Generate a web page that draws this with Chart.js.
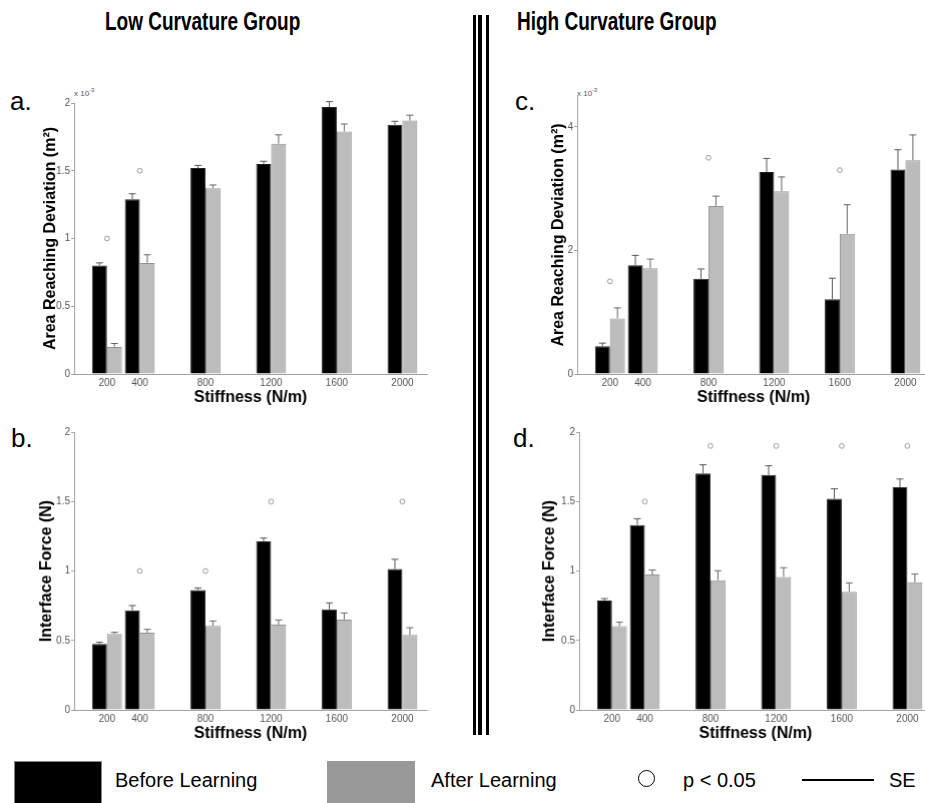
<!DOCTYPE html>
<html>
<head>
<meta charset="utf-8">
<script src="https://cdn.jsdelivr.net/npm/chart.js@4.4.1/dist/chart.umd.min.js"></script>
<style>
  html, body { margin: 0; padding: 0; background: #fff; }
  body { width: 925px; height: 803px; position: relative; overflow: hidden;
         font-family: "Liberation Sans", Arial, sans-serif; color: #000; }
  canvas { position: absolute; }
  .txt { position: absolute; white-space: nowrap; }
  .group { font-weight: bold; font-size: 19px; line-height: 19px; transform: scaleY(1.35); transform-origin: left top; }
  .letter { font-size: 26px; line-height: 26px; }
  .exp { font-size: 8px; line-height: 8px; color: #555; }
  .exp sup { font-size: 6px; vertical-align: 4px; }
  .sep { position: absolute; background: #000; top: 15px; height: 720px; }
  .leg { font-size: 20px; line-height: 20px; }
  .swatch { position: absolute; top: 761px; height: 50px; width: 88px; box-sizing: border-box; }
</style>
</head>
<body>

<div class="txt group" style="left:105px; top:8px;">Low Curvature Group</div>
<div class="txt group" style="left:517px; top:8px;">High Curvature Group</div>

<div class="sep" style="left:473px; width:3px;"></div>
<div class="sep" style="left:478px; width:4px;"></div>
<div class="sep" style="left:486px; width:3px;"></div>

<div class="txt letter" style="left:10px; top:88px;">a.</div>
<div class="txt letter" style="left:11px; top:425px;">b.</div>
<div class="txt letter" style="left:515px; top:88px;">c.</div>
<div class="txt letter" style="left:513px; top:425px;">d.</div>

<div class="txt exp" style="left:74px; top:86px;">x 10<sup>-3</sup></div>
<div class="txt exp" style="left:577px; top:86px;">x 10<sup>-3</sup></div>

<canvas id="chartA"></canvas>
<canvas id="chartB"></canvas>
<canvas id="chartC"></canvas>
<canvas id="chartD"></canvas>

<div class="swatch" style="left:14px; background:#000; border:1px solid #888;"></div>
<div class="txt leg" style="left:115px; top:770px;">Before Learning</div>
<div class="swatch" style="left:327px; background:#999;"></div>
<div class="txt leg" style="left:431px; top:770px;">After Learning</div>
<div style="position:absolute; left:638px; top:770px; width:15px; height:15px; border:1.5px solid #000; border-radius:50%;"></div>
<div class="txt leg" style="left:683px; top:770px;">p &lt; 0.05</div>
<div style="position:absolute; left:802px; top:779px; width:72px; height:1.5px; background:#000;"></div>
<div class="txt leg" style="left:889px; top:770px;">SE</div>

<script>
// stiffness levels (N/m)
const stiffness = [200, 400, 800, 1200, 1600, 2000];

// a. low curvature, area reaching deviation (x 10^-3 m^2)
const lowAreaBefore = [0.80, 1.29, 1.52, 1.55, 1.97, 1.84];
const lowAreaBeforeSE = [0.02, 0.04, 0.02, 0.02, 0.04, 0.025];
const lowAreaAfter = [0.20, 0.82, 1.37, 1.70, 1.79, 1.87];
const lowAreaAfterSE = [0.025, 0.06, 0.025, 0.065, 0.055, 0.04];
const lowAreaSig = [1.0, 1.5, null, null, null, null];

// b. low curvature, interface force (N)
const lowForceBefore = [0.475, 0.717, 0.863, 1.213, 0.724, 1.014];
const lowForceBeforeSE = [0.012, 0.034, 0.015, 0.024, 0.046, 0.07];
const lowForceAfter = [0.547, 0.556, 0.604, 0.614, 0.650, 0.540];
const lowForceAfterSE = [0.012, 0.024, 0.036, 0.033, 0.048, 0.052];
const lowForceSig = [null, 1.0, 1.0, 1.5, null, 1.5];

// c. high curvature, area reaching deviation (x 10^-3 m^2)
const highAreaBefore = [0.45, 1.76, 1.54, 3.27, 1.21, 3.31];
const highAreaBeforeSE = [0.05, 0.16, 0.16, 0.22, 0.34, 0.32];
const highAreaAfter = [0.90, 1.71, 2.72, 2.96, 2.27, 3.46];
const highAreaAfterSE = [0.17, 0.15, 0.16, 0.23, 0.47, 0.41];
const highAreaSig = [1.5, null, 3.5, null, 3.3, null];

// d. high curvature, interface force (N)
const highForceBefore = [0.787, 1.331, 1.703, 1.691, 1.520, 1.602];
const highForceBeforeSE = [0.014, 0.045, 0.062, 0.067, 0.072, 0.06];
const highForceAfter = [0.602, 0.974, 0.933, 0.957, 0.851, 0.918];
const highForceAfterSE = [0.029, 0.033, 0.069, 0.067, 0.063, 0.06];
const highForceSig = [null, 1.5, 1.9, 1.9, 1.9, 1.9];

// axis ticks
const lowAreaTicks = [0, 0.5, 1, 1.5, 2];
const highAreaTicks = [0, 2, 4];
const forceTicks = [0, 0.5, 1, 1.5, 2];

const AREA_TITLE = "Area Reaching Deviation (m\u00B2)";
const FORCE_TITLE = "Interface Force (N)";
const FONT = "'Liberation Sans', Arial, sans-serif";

// upward-only error bars drawn on top of the bars
const errorBars = {
  id: "errorBars",
  afterDatasetsDraw(chart) {
    const ctx = chart.ctx;
    const y = chart.scales.y;
    chart.data.datasets.forEach((ds, di) => {
      if (!ds.se) return;
      const meta = chart.getDatasetMeta(di);
      meta.data.forEach((bar, i) => {
        const top = y.getPixelForValue(ds.data[i].y + ds.se[i]);
        ctx.save();
        ctx.strokeStyle = ds.errColor;
        ctx.lineWidth = 1;
        ctx.beginPath();
        ctx.moveTo(bar.x, bar.y);
        ctx.lineTo(bar.x, top);
        ctx.moveTo(bar.x - 3.5, top);
        ctx.lineTo(bar.x + 3.5, top);
        ctx.stroke();
        ctx.restore();
      });
    });
  }
};

const LEFT = 70, TOP = 12, BOTTOM = 40, RIGHT = 4;

function makePanel(id, box, before, beforeSE, after, afterSE, sig, yMax, yTicks, yTitle, titlePad) {
  const cv = document.getElementById(id);
  const w = LEFT + (box.right - box.left) + RIGHT;
  const h = TOP + (box.bottom - box.top) + BOTTOM;
  cv.width = w; cv.height = h;
  cv.style.left = (box.left - LEFT) + "px";
  cv.style.top = (box.top - TOP) + "px";
  cv.style.width = w + "px"; cv.style.height = h + "px";

  const pts = (arr) => stiffness.map((s, i) => ({ x: s, y: arr[i] }));
  const sigPts = stiffness.map((s, i) => ({ x: s, y: sig[i] })).filter(p => p.y !== null);

  new Chart(cv, {
    type: "bar",
    data: {
      datasets: [
        { label: "Before Learning", data: pts(before), se: beforeSE, errColor: "#555",
          backgroundColor: "#000", borderColor: "#222", borderWidth: 1 },
        { label: "After Learning", data: pts(after), se: afterSE, errColor: "#666",
          backgroundColor: "#bcbcbc", borderColor: "#939393", borderWidth: 1 },
        { type: "line", label: "p < 0.05", data: sigPts, showLine: false,
          pointStyle: "circle", pointRadius: 2.4, borderWidth: 1,
          pointBorderColor: "#999", pointBackgroundColor: "rgba(0,0,0,0)" }
      ]
    },
    options: {
      responsive: false,
      animation: false,
      devicePixelRatio: 1,
      layout: { padding: { top: TOP, right: RIGHT, bottom: 0, left: 0 } },
      datasets: { bar: { categoryPercentage: 0.91, barPercentage: 1 } },
      plugins: { legend: { display: false }, tooltip: { enabled: false } },
      scales: {
        x: {
          type: "linear", min: 0, max: 2150, offset: false,
          grid: { display: false, drawTicks: false, offset: false },
          border: { display: true, color: "#a0a0a0" },
          afterBuildTicks: (s) => { s.ticks = stiffness.map(v => ({ value: v })); },
          afterFit: (s) => { s.height = BOTTOM; },
          ticks: { autoSkip: false, maxRotation: 0, padding: 3, color: "#555",
                   font: { family: FONT, size: 10 }, callback: (v) => String(v) },
          title: { display: true, text: "Stiffness (N/m)", color: "#000",
                   font: { family: FONT, size: 16, weight: "bold" },
                   padding: { top: 0, bottom: 6.5 } }
        },
        y: {
          min: 0, max: yMax,
          grid: { display: true, drawOnChartArea: false, drawTicks: true, tickLength: 3, color: "#a0a0a0" },
          border: { display: true, color: "#a0a0a0" },
          afterBuildTicks: (s) => { s.ticks = yTicks.map(v => ({ value: v })); },
          afterFit: (s) => { s.width = LEFT; },
          ticks: { padding: 1, color: "#555", font: { family: FONT, size: 10 },
                   callback: (v) => String(v) },
          title: { display: true, text: yTitle, color: "#000",
                   font: { family: FONT, size: 16, weight: "bold" },
                   padding: { top: titlePad, bottom: 0 } }
        }
      }
    },
    plugins: [errorBars]
  });
}

makePanel("chartA", { left: 74, right: 427.7, top: 102.7, bottom: 374.3 },
  lowAreaBefore, lowAreaBeforeSE, lowAreaAfter, lowAreaAfterSE, lowAreaSig, 2, lowAreaTicks, AREA_TITLE, 37);
makePanel("chartB", { left: 74, right: 427.7, top: 432.3, bottom: 710.3 },
  lowForceBefore, lowForceBeforeSE, lowForceAfter, lowForceAfterSE, lowForceSig, 2, forceTicks, FORCE_TITLE, 33);
makePanel("chartC", { left: 577.3, right: 931, top: 95.7, bottom: 374.3 },
  highAreaBefore, highAreaBeforeSE, highAreaAfter, highAreaAfterSE, highAreaSig, 4.5, highAreaTicks, AREA_TITLE, 42);
makePanel("chartD", { left: 579.3, right: 933, top: 432.3, bottom: 710.3 },
  highForceBefore, highForceBeforeSE, highForceAfter, highForceAfterSE, highForceSig, 2, forceTicks, FORCE_TITLE, 31);
</script>
</body>
</html>
